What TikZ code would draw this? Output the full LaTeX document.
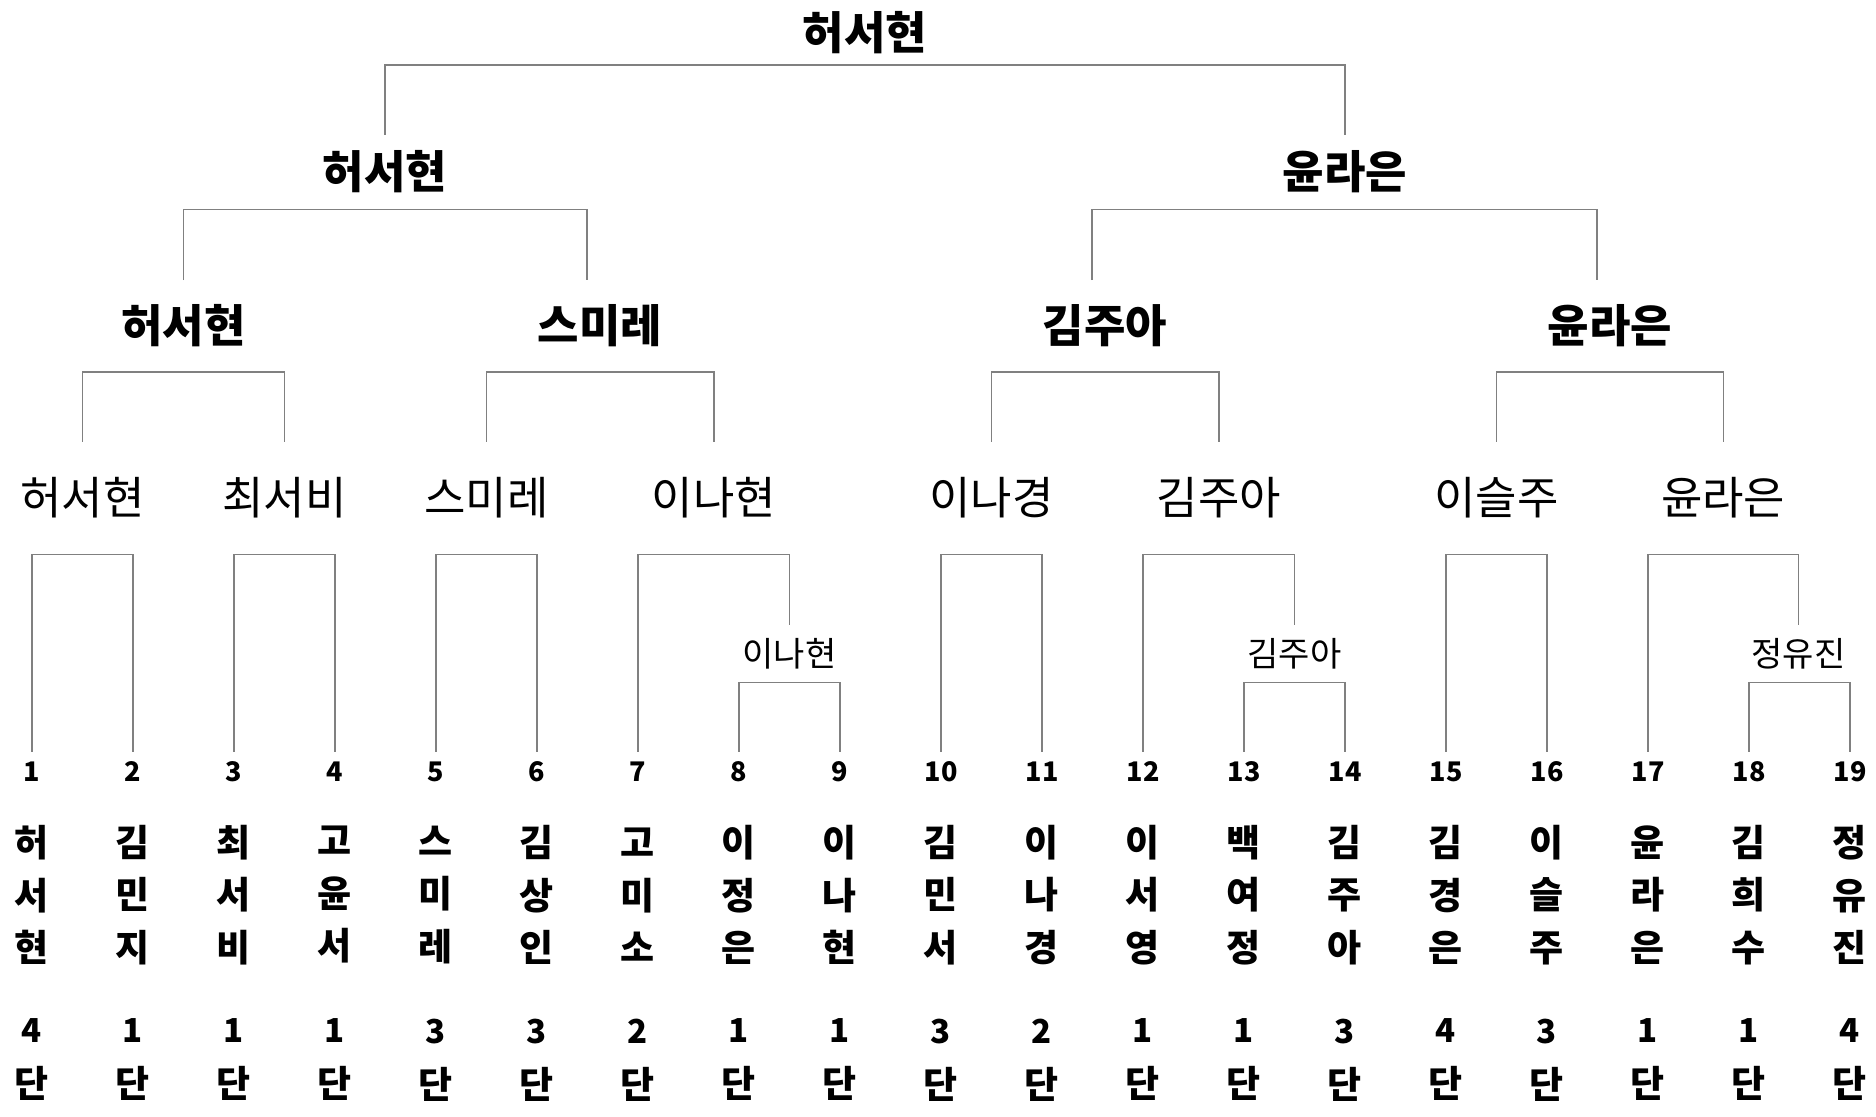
\documentclass[tikz,border=0pt]{standalone}
\usepackage{fontspec}
\setmainfont{Noto Sans CJK KR}
\definecolor{linegray}{RGB}{128,128,128}
\begin{document}
\begin{tikzpicture}[x = 0.5pt, y = -0.5pt,
        bracket/.style = {draw=linegray, line width=0.75pt},
        player/.style = {inner sep=0pt, align=center, font=\fontsize{18.5}{26.25}\selectfont\bfseries},
        seed/.style = {inner sep=0pt, minimum height=20pt, font=\fontsize{13.5}{15}\selectfont\bfseries},
        dan/.style = {inner sep=0pt, align=center, font=\fontsize{18.5}{27.5}\selectfont\bfseries},
        bye/.style = {inner sep=0pt, minimum height=28.5pt, font=\fontsize{17}{19}\selectfont},
        round16/.style = {inner sep=0pt, minimum height=56pt, font=\fontsize{22.5}{26}\selectfont},
        quarter/.style = {inner sep=0pt, minimum height=45.5pt, font=\fontsize{22.5}{26}\selectfont\bfseries},
        semi/.style = {inner sep=0pt, minimum height=37pt, font=\fontsize{22.5}{26}\selectfont\bfseries},
        final/.style = {inner sep=0pt, minimum height=31.5pt, font=\fontsize{22.5}{26}\selectfont\bfseries}]
    \useasboundingbox (0,0) rectangle (1876,1117);

    % players, seed number, name, dan
    \foreach \i/\ga/\gb/\gc/\rank in {1/허/서/현/4, 2/김/민/지/1, 3/최/서/비/1, 4/고/윤/서/1,
            5/스/미/레/3, 6/김/상/인/3, 7/고/미/소/2, 8/이/정/은/1, 9/이/나/현/1,
            10/김/민/서/3, 11/이/나/경/2, 12/이/서/영/1, 13/백/여/정/1, 14/김/주/아/3,
            15/김/경/은/4, 16/이/슬/주/3, 17/윤/라/은/1, 18/김/희/수/1, 19/정/유/진/4} {
        \pgfmathsetmacro\cx{32+101*(\i-1)}
        \node[seed] (n\i) at (\cx,772) {\i};
        \node[player] (nm\i) at (\cx,895) {\ga\\\gb\\\gc};
        \node[dan] (rk\i) at (\cx,1060) {{\fontsize{16.5}{27.5}\selectfont\rank}\\단};
    }

    % byes
    \node[bye] (s8) at (789.5,653.5) {이나현};
    \node[bye] (s13) at (1294.5,653.5) {김주아};
    \node[bye] (s18) at (1798.5,653.5) {정유진};

    % winners of each round
    \node[round16] (m1) at (82.5,498) {허서현};
    \node[round16] (m2) at (284.5,498) {최서비};
    \node[round16] (m3) at (486.5,498) {스미레};
    \node[round16] (m4) at (713.75,498) {이나현};
    \node[round16] (m5) at (991.5,498) {이나경};
    \node[round16] (m6) at (1218.75,498) {김주아};
    \node[round16] (m7) at (1496.5,498) {이슬주};
    \node[round16] (m8) at (1723.25,498) {윤라은};

    \node[quarter] (k1) at (183.5,326) {허서현};
    \node[quarter] (k2) at (600,326) {스미레};
    \node[quarter] (k3) at (1105,326) {김주아};
    \node[quarter] (k4) at (1610,326) {윤라은};

    \node[semi] (h1) at (385,172) {허서현};
    \node[semi] (h2) at (1345,172) {윤라은};

    \node[final] (w) at (865,33) {허서현};

    % brackets
    \foreach \a/\b/\p in {1/2/m1, 3/4/m2, 5/6/m3, 10/11/m5, 15/16/m7}
        \draw[bracket] (n\a.north) |- (\p.south) -| (n\b.north);
    \foreach \a/\s/\p in {7/8/m4, 12/13/m6, 17/18/m8} {
        \pgfmathtruncatemacro\b{\s+1}
        \draw[bracket] (n\a.north) |- (\p.south) -| (s\s.north);
        \draw[bracket] (n\s.north) |- (s\s.south) -| (n\b.north);
    }
    \draw[bracket] (m1.north) |- (k1.south) -| (m2.north);
    \draw[bracket] (m3.north) |- (k2.south) -| (m4.north);
    \draw[bracket] (m5.north) |- (k3.south) -| (m6.north);
    \draw[bracket] (m7.north) |- (k4.south) -| (m8.north);
    \draw[bracket] (k1.north) |- (h1.south) -| ([xshift=-6.5pt]k2.north);
    \draw[bracket] ([xshift=-6.5pt]k3.north) |- (h2.south) -| ([xshift=-6.5pt]k4.north);
    \draw[bracket] (h1.north) |- (w.south) -| (h2.north);
\end{tikzpicture}
\end{document}
